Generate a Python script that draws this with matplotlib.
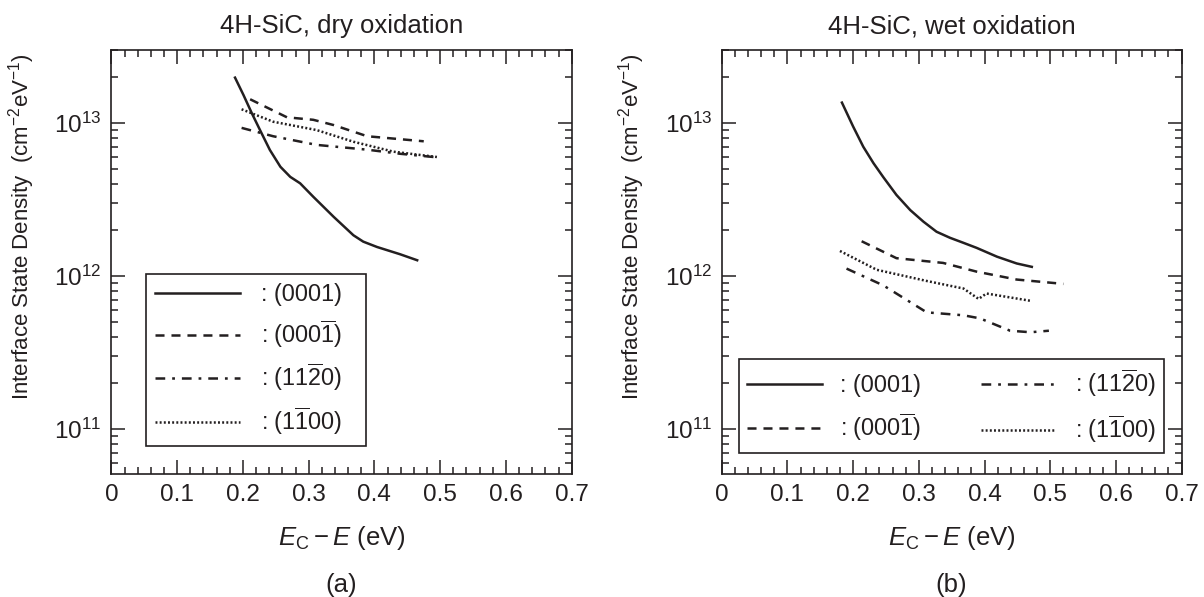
import matplotlib
matplotlib.use("Agg")
import matplotlib.pyplot as plt
from matplotlib.ticker import LogLocator, MultipleLocator, NullFormatter, FixedLocator

plt.rcParams['font.family'] = ['Liberation Sans', 'DejaVu Sans']
plt.rcParams['mathtext.fontset'] = 'custom'
plt.rcParams['mathtext.rm'] = 'Liberation Sans'
plt.rcParams['mathtext.it'] = 'Liberation Sans:italic'
plt.rcParams['mathtext.bf'] = 'Liberation Sans:bold'
plt.rcParams['lines.scale_dashes'] = False

# ---- data: dry oxidation (a) ----
dry_0001_x = [0.188, 0.201, 0.2135, 0.226, 0.241, 0.257, 0.272, 0.287, 0.307, 0.338,
              0.368, 0.383, 0.404, 0.439, 0.465]
dry_0001_y = [1.98e13, 1.52e13, 1.16e13, 9.0e12, 6.67e12, 5.18e12, 4.45e12, 4.04e12,
              3.30e12, 2.44e12, 1.85e12, 1.68e12, 1.55e12, 1.39e12, 1.27e12]
dry_000m1_x = [0.211, 0.267, 0.307, 0.338, 0.389, 0.475]
dry_000m1_y = [1.43e13, 1.09e13, 1.05e13, 9.7e12, 8.2e12, 7.6e12]
dry_1120_x = [0.198, 0.246, 0.312, 0.389, 0.439, 0.495]
dry_1120_y = [9.3e12, 8.2e12, 7.2e12, 6.7e12, 6.3e12, 5.97e12]
dry_1100_x = [0.198, 0.246, 0.312, 0.368, 0.429, 0.495]
dry_1100_y = [1.23e13, 1.02e13, 9.0e12, 7.55e12, 6.5e12, 6.0e12]

# ---- data: wet oxidation (b) ----
wet_0001_x = [0.183, 0.200, 0.2155, 0.231, 0.246, 0.266, 0.287, 0.307, 0.327, 0.3475,
              0.368, 0.388, 0.419, 0.449, 0.472]
wet_0001_y = [1.36e13, 9.5e12, 7.0e12, 5.47e12, 4.43e12, 3.39e12, 2.70e12, 2.27e12,
              1.95e12, 1.78e12, 1.65e12, 1.53e12, 1.34e12, 1.21e12, 1.15e12]
wet_000m1_x = [0.213, 0.266, 0.337, 0.388, 0.449, 0.520]
wet_000m1_y = [1.69e12, 1.31e12, 1.22e12, 1.07e12, 9.5e11, 8.9e11]
wet_1120_x = [0.190, 0.246, 0.312, 0.368, 0.393, 0.439, 0.470, 0.498]
wet_1120_y = [1.12e12, 8.7e11, 5.8e11, 5.55e11, 5.3e11, 4.4e11, 4.3e11, 4.4e11]
wet_1100_x = [0.180, 0.236, 0.312, 0.368, 0.391, 0.403, 0.470]
wet_1100_y = [1.46e12, 1.1e12, 9.3e11, 8.3e11, 7.1e11, 7.7e11, 6.9e11]

labels = [r': (0001)', r': (000$\overline{\mathrm{1}}$)',
          r': (11$\overline{\mathrm{2}}$0)', r': (1$\overline{\mathrm{1}}$00)']
titles = ['4H-SiC, dry oxidation', '4H-SiC, wet oxidation']
panel_tags = ['(a)', '(b)']
xticks = [0, 0.1, 0.2, 0.3, 0.4, 0.5, 0.6, 0.7]
xticklabels = ['0', '0.1', '0.2', '0.3', '0.4', '0.5', '0.6', '0.7']

ink = '#231f20'
lw = 1.8
styles = [
    dict(linestyle='-', linewidth=lw),
    dict(linestyle=(0, (6.5, 5.0)), linewidth=lw),
    dict(linestyle=(0, (7.0, 5.0, 2.0, 5.0)), linewidth=lw),
    dict(linestyle=(0, (1.4, 1.6)), linewidth=lw),
]

fig = plt.figure(figsize=(12.04, 5.97), dpi=100)
W, H = 1204, 597
axes_px = [(111.4, 571.7), (721.7, 1181.6)]
top, bot = 50, 474

datasets = [
    [(dry_0001_x, dry_0001_y), (dry_000m1_x, dry_000m1_y), (dry_1120_x, dry_1120_y), (dry_1100_x, dry_1100_y)],
    [(wet_0001_x, wet_0001_y), (wet_000m1_x, wet_000m1_y), (wet_1120_x, wet_1120_y), (wet_1100_x, wet_1100_y)],
]

fs_tick = 17.5
fs_title = 18.5
fs_xlab = 18.5
fs_ylab = 16
fs_leg = 16.8
for i, (x0, x1) in enumerate(axes_px):
    ax = fig.add_axes([x0 / W, 1 - bot / H, (x1 - x0) / W, (bot - top) / H])
    handles = []
    for (xs, ys), st, lab in zip(datasets[i], styles, labels):
        h, = ax.plot(xs, ys, color=ink, label=lab, **st)
        handles.append(h)
    ax.set_yscale('log')
    ax.set_xlim(0, 0.7)
    ax.set_ylim(5.1e10, 3e13)
    ax.set_xticks(xticks)
    ax.set_xticklabels(xticklabels)
    ax.xaxis.set_minor_locator(MultipleLocator(0.02))
    ax.yaxis.set_major_locator(FixedLocator([1e11, 1e12, 1e13]))
    ax.yaxis.set_minor_locator(LogLocator(base=10, subs=range(2, 10), numticks=20))
    ax.yaxis.set_minor_formatter(NullFormatter())
    ax.set_yticklabels([r'$10^{11}$', r'$10^{12}$', r'$10^{13}$'])
    ax.tick_params(which='both', direction='in', top=True, right=True, color=ink,
                   labelcolor=ink, labelsize=fs_tick, width=1.1)
    ax.tick_params(which='major', length=10, pad=7)
    ax.tick_params(which='minor', length=5)
    for s in ax.spines.values():
        s.set_linewidth(1.2)
        s.set_color(ink)
    ax.set_title(titles[i], fontsize=fs_title, color=ink, pad=12)
    ax.set_xlabel(r'$E_{\mathrm{C}} - E$ (eV)', fontsize=fs_xlab, color=ink, labelpad=13)
    ax.set_ylabel(r'Interface State Density  (cm$^{-2}$eV$^{-1}$)', fontsize=fs_ylab, color=ink)
    ax.yaxis.set_label_coords(-0.162, 0.584)
    ax.text(0.5, -0.262, panel_tags[i], transform=ax.transAxes, ha='center', va='center',
            fontsize=fs_xlab, color=ink)
    if i == 0:
        leg = ax.legend(handles=handles, loc='lower left',
                        bbox_to_anchor=(0.075, 0.066, 0.478, 0.4), mode='expand',
                        ncol=1, fontsize=fs_leg, handlelength=3.65, handletextpad=0.9,
                        labelspacing=0.5, borderpad=0.4, fancybox=False, framealpha=1,
                        edgecolor=ink, borderaxespad=0)
    else:
        leg = ax.legend(handles=handles, loc='lower left',
                        bbox_to_anchor=(0.0376, 0.0495, 0.924, 0.2), mode='expand',
                        ncol=2, fontsize=fs_leg, handlelength=3.2, handletextpad=0.8,
                        labelspacing=0.6, columnspacing=1.4, borderpad=0.35, fancybox=False,
                        framealpha=1, edgecolor=ink, borderaxespad=0)
    leg.get_frame().set_linewidth(1.2)
    for t in leg.get_texts():
        t.set_color(ink)

fig.savefig('out.png', dpi=100)
